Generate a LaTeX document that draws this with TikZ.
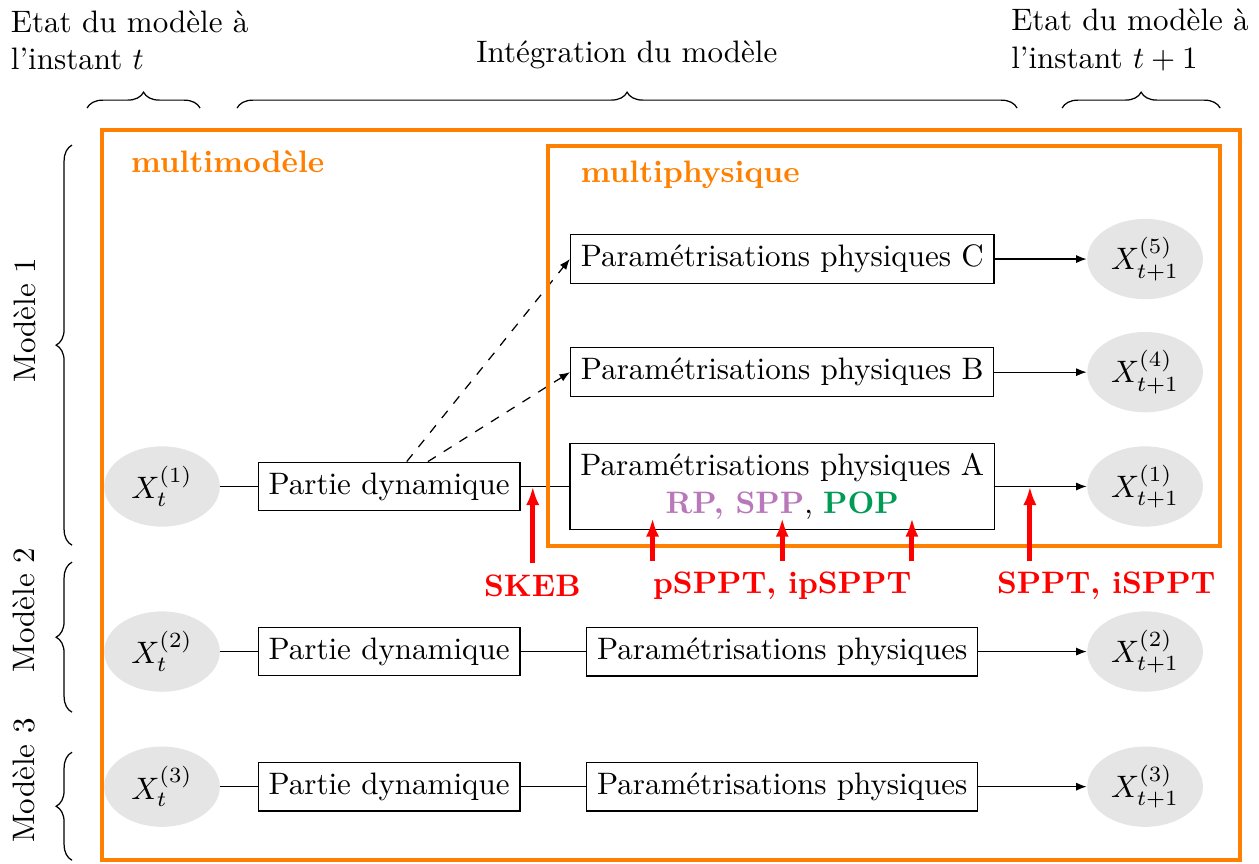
\documentclass[tikz,border=0pt]{standalone}
\usepackage{amsmath,amssymb}
\usepackage{xcolor}
\usepackage{tikz}
\usetikzlibrary{shapes, arrows.meta, positioning, decorations.pathreplacing, calc}

\definecolor{rpviolet}{RGB}{185,120,185}
\definecolor{popvert}{RGB}{0,155,85}

\begin{document}
\begin{tikzpicture}[auto]
    \tikzstyle{block} = [rectangle, draw, fill=white, align=center]
    \tikzstyle{etat} = [ellipse, fill=gray!20, minimum width=1.31cm, minimum height=0.91cm, inner sep=0pt]
    \tikzstyle{line} = [draw]
    \tikzstyle{arrow} = [draw, -{Latex[length=3.4pt,width=2.6pt]}]
    \tikzstyle{redarrow} = [draw, red, line width=1.6pt, -{Latex[length=2.1mm,width=1.5mm]}]
    \tikzstyle{redlabel} = [text=red, font=\bfseries, inner xsep=0pt]
    \tikzstyle{frame} = [draw=orange, line width=1.3pt]
    \tikzstyle{bracestyle} = [decorate, decoration={brace, amplitude=0.18cm}]

    \useasboundingbox (0,0) rectangle (14.26,-9.78);

    % titres du haut
    \node [align=left, anchor=west] (etat0) at (0,-0.453) {Etat du modèle à\\l'instant $t$};
    \node (integ) at (7.10,-0.623) {Intégration du modèle};
    \node [align=left, anchor=west] (etat1) at (11.33,-0.453) {Etat du modèle à\\l'instant $t+1$};
    \draw [bracestyle] (0.986,-1.224) -- (2.266,-1.224);
    \draw [bracestyle] (2.685,-1.224) -- (11.52,-1.224);
    \draw [bracestyle] (12.03,-1.224) -- (13.82,-1.224);

    % modeles
    \draw [bracestyle] (0.816,-6.175) -- (0.816,-1.643);
    \draw [bracestyle] (0.816,-8.067) -- (0.816,-6.367);
    \draw [bracestyle] (0.816,-9.744) -- (0.816,-8.52);
    \node [rotate=90] (mod1) at (0.283,-3.626) {Modèle 1};
    \node [rotate=90] (mod2) at (0.27,-6.91) {Modèle 2};
    \node [rotate=90] (mod3) at (0.27,-8.84) {Modèle 3};

    % etats initiaux
    \node [etat] (xt1) at (1.835,-5.51) {$X_t^{(1)}$};
    \node [etat] (xt2) at (1.835,-7.38) {$X_t^{(2)}$};
    \node [etat] (xt3) at (1.835,-8.91) {$X_t^{(3)}$};

    % parties dynamiques
    \node [block] (pd1) at (4.407,-5.51) {Partie dynamique};
    \node [block] (pd2) at (4.407,-7.38) {Partie dynamique};
    \node [block] (pd3) at (4.407,-8.91) {Partie dynamique};

    % parametrisations
    \node [block] (pc) at (8.86,-2.934) {Paramétrisations physiques C};
    \node [block] (pb) at (8.86,-4.215) {Paramétrisations physiques B};
    \node [block] (pa) at (8.86,-5.51) {Paramétrisations physiques A\\
        {\color{rpviolet}\textbf{RP, SPP}}, {\color{popvert}\textbf{POP}}};
    \node [block] (pp2) at (8.86,-7.38) {Paramétrisations physiques};
    \node [block] (pp3) at (8.86,-8.91) {Paramétrisations physiques};

    % etats finaux
    \node [etat] (xf5) at (12.97,-2.934) {$X_{t+1}^{(5)}$};
    \node [etat] (xf4) at (12.97,-4.215) {$X_{t+1}^{(4)}$};
    \node [etat] (xf1) at (12.97,-5.51) {$X_{t+1}^{(1)}$};
    \node [etat] (xf2) at (12.97,-7.38) {$X_{t+1}^{(2)}$};
    \node [etat] (xf3) at (12.97,-8.91) {$X_{t+1}^{(3)}$};

    \path [line] (xt1) -- (pd1);
    \path [line] (xt2) -- (pd2);
    \path [line] (xt3) -- (pd3);
    \path [line] (pd1) -- (pa);
    \path [line] (pd2) -- (pp2);
    \path [line] (pd3) -- (pp3);
    \path [arrow] (pc) -- (xf5);
    \path [arrow] (pb) -- (xf4);
    \path [arrow] (pa) -- (xf1);
    \path [arrow] (pp2) -- (xf2);
    \path [arrow] (pp3) -- (xf3);
    % appels vers les autres physiques
    \draw [arrow, dashed] ([xshift=0.2cm]pd1.north) -- (pc.west);
    \draw [arrow, dashed] ([xshift=0.44cm]pd1.north) -- (pb.west);

    % cadres
    \draw [frame] (1.156,-1.473) rectangle (14.05,-9.744);
    \draw [frame] (6.209,-1.654) rectangle (13.82,-6.186);
    \node [anchor=west, text=orange, font=\bfseries] (multimod) at (1.36,-1.835) {multimodèle};
    \node [anchor=west, text=orange, font=\bfseries] (multiphys) at (6.455,-1.983) {multiphysique};

    % perturbations stochastiques
    \coordinate (skebpt) at ($(pd1.east)!0.25!(pa.west)$);
    \coordinate (spptpt) at ($(pa.east)!0.38!(xf1.west)$);
    \coordinate (pabas) at ([yshift=0.136cm]pa.south);
    \node [redlabel] (skeb) at (6.03,-6.63) {SKEB};
    \node [redlabel] (psppt) at (8.86,-6.63) {pSPPT, ipSPPT};
    \node [redlabel] (sppt) at (12.53,-6.63) {SPPT, iSPPT};
    \path [redarrow] (skebpt |- skeb.north) -- (skebpt);
    \path [redarrow] (psppt.north west) -- (psppt.north west |- pabas);
    \path [redarrow] (psppt.north) -- (pabas);
    \path [redarrow] (psppt.north east) -- (psppt.north east |- pabas);
    \path [redarrow] (spptpt |- sppt.north) -- (spptpt);
\end{tikzpicture}
\end{document}
